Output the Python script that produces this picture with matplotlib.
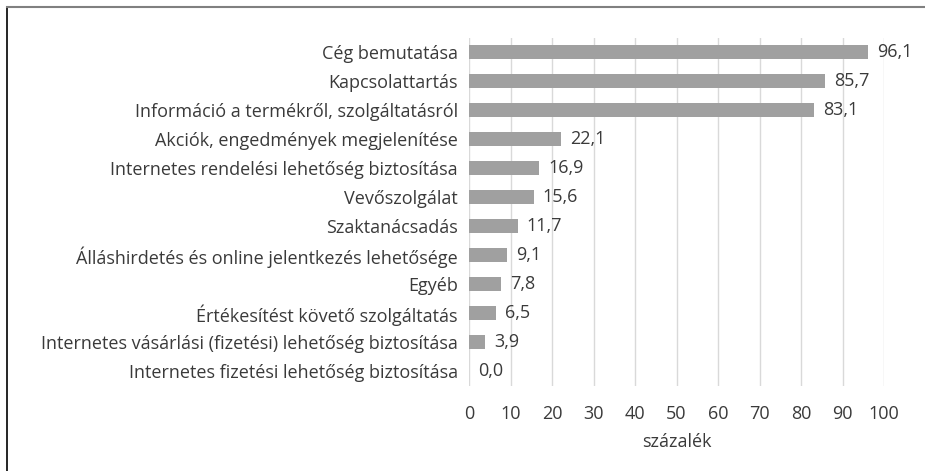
import matplotlib
matplotlib.use("Agg")
import matplotlib.pyplot as plt
from matplotlib.lines import Line2D

categories = [
    "Cég bemutatása",
    "Kapcsolattartás",
    "Információ a termékről, szolgáltatásról",
    "Akciók, engedmények megjelenítése",
    "Internetes rendelési lehetőség biztosítása",
    "Vevőszolgálat",
    "Szaktanácsadás",
    "Álláshirdetés és online jelentkezés lehetősége",
    "Egyéb",
    "Értékesítést követő szolgáltatás",
    "Internetes vásárlási (fizetési) lehetőség biztosítása",
    "Internetes fizetési lehetőség biztosítása",
]
values = [96.1, 85.7, 83.1, 22.1, 16.9, 15.6, 11.7, 9.1, 7.8, 6.5, 3.9, 0.0]
xticks = list(range(0, 101, 10))
xlabel = "százalék"

plt.rcParams['font.family'] = ['Open Sans', 'DejaVu Sans']
txt = '#3a3a3a'
fs = 13

fig = plt.figure(figsize=(9.25, 4.71), dpi=100)
ax = fig.add_axes([469/925, 1-385.5/471, (884-469)/925, 348/471])

n = len(categories)
ypos = list(range(n))[::-1]
ax.barh(ypos, values, height=0.48, color='#a0a0a0', zorder=3)
for y, v in zip(ypos, values):
    ax.annotate(f"{v:.1f}".replace('.', ','), (v, y), xytext=(6.5, 0),
                textcoords='offset points', va='center', ha='left',
                fontsize=fs, color=txt)

ax.set_xlim(0, 100)
ax.set_ylim(-0.5, n - 0.5)
ax.set_xticks(xticks)
ax.set_xticklabels([str(t) for t in xticks], fontsize=fs, color=txt)
ax.set_yticks(ypos)
ax.set_yticklabels(categories, fontsize=fs, color=txt)
ax.tick_params(axis='y', length=0, pad=8)
ax.tick_params(axis='x', length=0, pad=14)
ax.grid(axis='x', color='#d9d9d9', linewidth=1, zorder=0)
for s in ax.spines.values():
    s.set_visible(False)
ax.set_xlabel(xlabel, fontsize=fs, color=txt, labelpad=7)

fig.add_artist(Line2D([7/925, 7/925], [0, 1-7/471], color='black', lw=1.2, transform=fig.transFigure))
fig.add_artist(Line2D([7/925, 1], [1-7/471, 1-7/471], color='#808080', lw=1.5, transform=fig.transFigure))

fig.savefig("out.png", dpi=100)
